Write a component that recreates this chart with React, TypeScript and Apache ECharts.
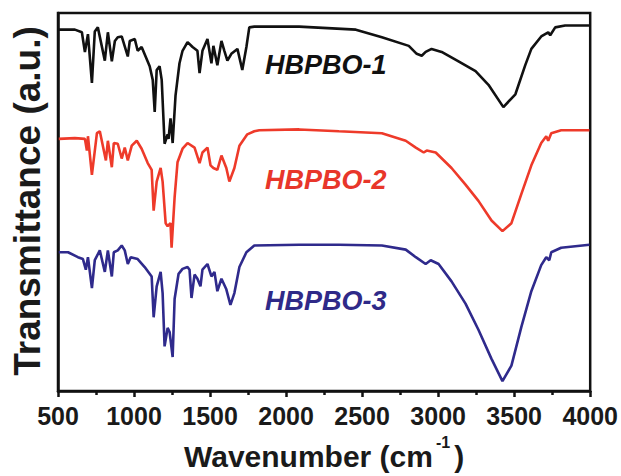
import React, { useEffect, useRef } from "react";
import * as echarts from "echarts";

const xTicks = [500, 1000, 1500, 2000, 2500, 3000, 3500, 4000];

const wn1 = [505,611,657,677,697,723,742,762,808,828,854,874,893,919,959,972,1005,1024,1050,1103,1123,1136,1149,1168,1182,1201,1221,1227,1240,1254,1273,1299,1319,1352,1385,1417,1431,1450,1483,1509,1522,1548,1575,1594,1614,1640,1680,1712,1739,1758,1791,2086,2459,2630,2807,2859,2892,2918,2957,3023,3134,3246,3331,3429,3508,3573,3613,3678,3724,3737,3770,3835,3995];
const t1 = [95.6,95.6,94.9,89.7,94.4,81.5,95.1,96.2,87.4,94.9,87.2,92.6,93.6,93.8,88.5,92.6,93.1,90.0,91.0,85.9,82.3,73.8,84.9,85.9,82.3,65.4,67.9,66.7,72.1,65.6,78.2,86.7,90.0,92.3,91.0,90.0,84.1,90.0,93.1,86.7,91.3,86.2,92.6,90.0,87.4,89.2,90.5,84.9,91.0,96.2,96.4,96.4,95.6,93.6,91.3,89.2,88.7,89.7,90.5,89.7,87.2,84.6,81.0,75.1,78.5,86.2,90.5,93.8,94.9,94.1,96.2,96.7,96.7];

const wn2 = [505,611,677,690,697,723,756,775,815,828,854,867,893,919,939,959,985,1018,1050,1090,1116,1129,1149,1175,1188,1208,1221,1240,1247,1267,1286,1319,1352,1398,1431,1450,1483,1503,1522,1548,1575,1607,1627,1660,1693,1745,1791,1824,2086,2348,2630,2787,2853,2905,2925,2984,3088,3180,3265,3351,3423,3482,3547,3613,3678,3711,3724,3744,3809,3995];
const t2 = [66.7,66.9,66.7,63.6,67.4,57.2,68.2,68.7,61.0,66.2,59.2,65.6,65.4,61.5,64.4,61.0,64.9,66.2,64.1,60.3,58.5,47.7,55.4,59.0,55.4,44.4,43.6,44.4,37.9,51.3,60.5,64.1,65.6,64.4,60.3,63.1,64.4,59.7,59.0,58.5,62.3,59.0,55.4,59.0,64.9,67.9,68.7,69.0,69.2,68.7,68.2,66.2,64.4,63.1,63.6,63.1,59.0,54.6,50.3,45.1,42.3,44.4,52.1,59.7,65.6,67.4,66.2,68.2,69.0,69.0];

const wn3 = [505,566,631,664,683,697,723,742,775,808,828,854,867,893,919,939,959,978,1024,1070,1116,1129,1149,1175,1188,1201,1221,1234,1254,1267,1293,1319,1352,1365,1378,1398,1417,1437,1450,1483,1509,1529,1548,1575,1607,1634,1660,1693,1739,1791,2086,2348,2630,2787,2853,2918,2951,3003,3088,3180,3265,3351,3423,3482,3547,3613,3678,3711,3731,3744,3809,3995];
const t3 = [36.7,36.7,35.4,34.9,32.1,35.4,27.2,34.6,37.2,31.5,37.2,30.3,36.7,37.2,38.5,37.2,33.6,35.4,34.9,32.8,30.3,19.5,27.7,31.5,25.9,11.8,16.7,15.6,9.0,24.4,31.0,32.3,32.8,32.1,24.6,30.8,29.7,27.7,32.1,33.6,30.3,31.5,26.4,29.7,26.9,22.8,25.9,32.8,36.7,38.5,38.7,38.7,38.5,37.4,35.4,33.6,34.6,33.6,29.0,23.1,16.2,8.5,2.6,6.7,16.9,26.4,33.3,35.4,34.6,36.7,37.9,38.7];

const sampleNames = ["HBPBO-1", "HBPBO-2", "HBPBO-3"];
const lineColors = ["#111111", "#ee3a2a", "#2f2a8c"];
const labelColors = ["#111111", "#e8362a", "#2f2a88"];
const yTitle = "Transmittance (a.u.)";

const FONT = "'Liberation Sans', Arial, Helvetica, sans-serif";

export default function App() {
  const ref = useRef<HTMLDivElement>(null);
  useEffect(() => {
    if (!ref.current) return;
    const chart = echarts.init(ref.current, null, { renderer: "svg" });
    const zip = (xs: number[], ys: number[]) => xs.map((x, i) => [x, ys[i]]);
    const datasets = [zip(wn1, t1), zip(wn2, t2), zip(wn3, t3)];
    chart.setOption({
      animation: false,
      backgroundColor: "#ffffff",
      grid: {
        left: 58,
        right: 30,
        top: 13,
        bottom: 71,
        show: true,
        borderColor: "#111",
        borderWidth: 2.5,
        backgroundColor: "transparent",
      },
      xAxis: {
        type: "value",
        min: xTicks[0],
        max: xTicks[xTicks.length - 1],
        interval: 500,
        axisLine: { show: true, lineStyle: { color: "#111", width: 2.5 } },
        axisTick: { show: true, inside: false, length: 6, lineStyle: { color: "#111", width: 2.5 } },
        minorTick: { show: true, splitNumber: 2, length: 4, lineStyle: { color: "#111", width: 2.5 } },
        splitLine: { show: false },
        axisLabel: {
          margin: 12,
          color: "#1a1a1a",
          fontFamily: FONT,
          fontWeight: "bold",
          fontSize: 25,
          formatter: (v: number) => String(v),
        },
        name: "Wavenumber (cm{sup|-1})",
        nameLocation: "middle",
        nameGap: 43,
        nameTextStyle: {
          color: "#1a1a1a",
          fontFamily: FONT,
          fontWeight: "bold",
          fontSize: 30,
          rich: {
            sup: {
              fontFamily: FONT,
              fontWeight: "bold",
              fontSize: 16,
              color: "#1a1a1a",
              padding: [0, 4, 28, 3],
            },
          },
        },
      },
      yAxis: {
        type: "value",
        min: 0,
        max: 100,
        axisLine: { show: true, lineStyle: { color: "#111", width: 2.5 } },
        axisTick: { show: false },
        axisLabel: { show: false },
        splitLine: { show: false },
      },
      series: datasets.map((d, i) => ({
        name: sampleNames[i],
        type: "line",
        data: d,
        showSymbol: false,
        symbol: "none",
        lineStyle: { color: lineColors[i], width: 2.6 },
        z: 3,
      })),
      graphic: [
        ...sampleNames.map((n, i) => ({
          type: "text",
          left: 265,
          top: [51, 166, 287][i],
          style: {
            text: n,
            fill: labelColors[i],
            font: `italic bold 27px ${FONT}`,
          },
        })),
        {
          type: "text",
          x: 27,
          y: 201,
          rotation: Math.PI / 2,
          style: {
            text: yTitle,
            fill: "#1a1a1a",
            font: `bold 37px ${FONT}`,
            align: "center",
            verticalAlign: "middle",
          },
        },
      ],
    });
    return () => chart.dispose();
  }, []);
  return (
    <div
      ref={ref}
      style={{ position: "fixed", left: 0, top: 0, width: 621, height: 476, background: "#fff" }}
    />
  );
}
